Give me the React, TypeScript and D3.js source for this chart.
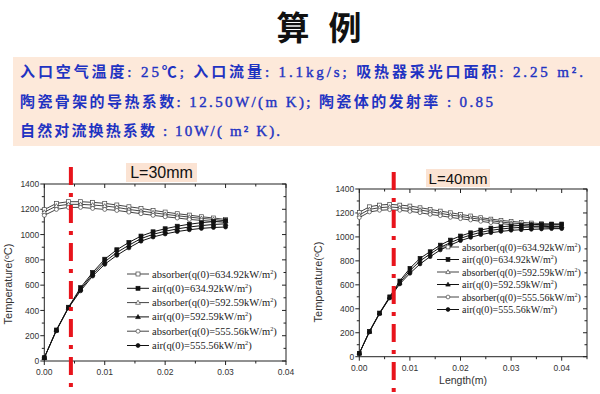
import React from "react";
import * as d3 from "d3";

// tube length (m)
const lenL30 = [0, 0.002, 0.004, 0.006, 0.008, 0.01, 0.012, 0.014, 0.016, 0.018, 0.02, 0.022, 0.024, 0.026, 0.028, 0.03];
const lenL40 = [0, 0.002, 0.004, 0.006, 0.008, 0.01, 0.012, 0.014, 0.016, 0.018, 0.02, 0.022, 0.024, 0.026, 0.028, 0.03, 0.032, 0.034, 0.036, 0.038, 0.04];

// L = 30mm temperatures (°C)
const abs634L30 = [1197, 1247, 1260, 1260, 1255, 1247, 1234, 1220, 1207, 1191, 1178, 1165, 1154, 1141, 1131, 1120];
const abs592L30 = [1177, 1226, 1239, 1239, 1234, 1226, 1215, 1199, 1186, 1173, 1160, 1149, 1138, 1128, 1120, 1109];
const abs555L30 = [1152, 1199, 1215, 1215, 1207, 1199, 1191, 1178, 1165, 1152, 1141, 1131, 1120, 1112, 1104, 1096];
const air634L30 = [26, 245, 425, 580, 700, 805, 880, 938, 988, 1022, 1046, 1066, 1082, 1094, 1103, 1110];
const air592L30 = [26, 243, 422, 567, 686, 785, 858, 916, 968, 1002, 1026, 1045, 1060, 1071, 1080, 1085];
const air555L30 = [26, 240, 420, 555, 672, 765, 836, 895, 948, 981, 1005, 1024, 1038, 1049, 1056, 1060];

// L = 40mm temperatures (°C)
const abs634L40 = [1205, 1252, 1266, 1272, 1266, 1258, 1244, 1230, 1216, 1202, 1188, 1175, 1161, 1149, 1138, 1130, 1122, 1116, 1111, 1105, 1102];
const abs592L40 = [1183, 1230, 1244, 1250, 1244, 1236, 1225, 1211, 1197, 1183, 1172, 1158, 1147, 1136, 1124, 1116, 1110, 1102, 1097, 1091, 1088];
const abs555L40 = [1161, 1208, 1222, 1227, 1222, 1213, 1202, 1188, 1177, 1163, 1152, 1141, 1130, 1119, 1111, 1102, 1094, 1088, 1083, 1077, 1074];
const air634L40 = [28, 212, 365, 500, 632, 738, 821, 877, 932, 974, 1008, 1035, 1058, 1074, 1085, 1091, 1096, 1102, 1105, 1108, 1108];
const air592L40 = [28, 209, 362, 495, 618, 718, 799, 857, 913, 952, 988, 1016, 1038, 1055, 1066, 1074, 1080, 1082, 1085, 1088, 1088];
const air555L40 = [28, 206, 359, 490, 607, 696, 774, 835, 891, 932, 969, 996, 1019, 1035, 1046, 1055, 1060, 1063, 1066, 1069, 1069];

const legendNames = ["absorber(q(0)=634.92kW/m", "air(q(0)=634.92kW/m", "absorber(q(0)=592.59kW/m", "air(q(0)=592.59kW/m", "absorber(q(0)=555.56kW/m", "air(q(0)=555.56kW/m"];
const xTicks = [0, 0.01, 0.02, 0.03, 0.04];
const yTicks = [0, 200, 400, 600, 800, 1000, 1200, 1400];
const redLineAt = [0.0044, 0.0068];

const textLines = [
  "入口空气温度: 25℃;  入口流量: 1.1kg/s; 吸热器采光口面积: 2.25 m².",
  "陶瓷骨架的导热系数: 12.50W/(m K); 陶瓷体的发射率 : 0.85",
  "自然对流换热系数 : 10W/( m² K).",
];

const SERIF = "'Liberation Serif', 'Times New Roman', 'DejaVu Serif', serif";
const SANS = "'Liberation Sans', Arial, sans-serif";
const CJK = "'Noto Sans CJK SC', sans-serif";

type Shape = "square" | "triangle" | "circle";
const shapes: Shape[] = ["square", "square", "triangle", "triangle", "circle", "circle"];

function Marker({ x, y, shape, filled, s }: { x: number; y: number; shape: Shape; filled: boolean; s: number }) {
  const fill = filled ? "#111" : "#fff";
  const stroke = filled ? "#111" : "#444";
  if (shape === "square")
    return <rect x={x - s / 2} y={y - s / 2} width={s} height={s} fill={fill} stroke={stroke} strokeWidth={0.7} />;
  if (shape === "circle") return <circle cx={x} cy={y} r={s / 2} fill={fill} stroke={stroke} strokeWidth={0.7} />;
  const h = s * 0.6;
  return <path d={`M${x},${y - h} L${x + h},${y + h * 0.7} L${x - h},${y + h * 0.7} Z`} fill={fill} stroke={stroke} strokeWidth={0.7} />;
}

type ChartProps = {
  xs: number[];
  series: number[][];
  x0: number; x1: number; yTop: number; yBot: number; xMax: number;
  redX: number; redTop: number;
  legendX: number; legendY: number; legendStep: number; legendFont: number;
  yLabelX: number; yLabelY: number;
  xLabel?: { x: number; y: number };
  tickFont: number;
  ms: number;
};

function Chart(p: ChartProps) {
  const x = d3.scaleLinear().domain([0, p.xMax]).range([p.x0, p.x1]);
  const y = d3.scaleLinear().domain([0, 1400]).range([p.yBot, p.yTop]);
  const line = d3.line<number>().x((_, i) => x(p.xs[i])).y((d) => y(d));
  const minorX = d3.range(0, p.xMax + 1e-9, 0.005);
  const minorY = d3.range(0, 1401, 100);
  const order = [0, 2, 4, 1, 3, 5];
  return (
    <g>
      {/* frame */}
      <rect x={p.x0} y={p.yTop} width={p.x1 - p.x0} height={p.yBot - p.yTop} fill="#fff" stroke="#222" strokeWidth={1} />
      {/* ticks */}
      {minorX.map((t) => {
        const major = xTicks.some((m) => Math.abs(m - t) < 1e-9);
        const l = major ? 4 : 2.5;
        return (
          <g key={"x" + t}>
            <line x1={x(t)} x2={x(t)} y1={p.yBot} y2={p.yBot + l} stroke="#222" />
            <line x1={x(t)} x2={x(t)} y1={p.yTop} y2={p.yTop + l} stroke="#222" />
          </g>
        );
      })}
      {minorY.map((t) => {
        const l = t % 200 === 0 ? 4 : 2.5;
        return (
          <g key={"y" + t}>
            <line x1={p.x0 - l} x2={p.x0} y1={y(t)} y2={y(t)} stroke="#222" />
            <line x1={p.x1 - l} x2={p.x1} y1={y(t)} y2={y(t)} stroke="#222" />
          </g>
        );
      })}
      {xTicks.map((t) => (
        <text key={"xl" + t} x={x(t)} y={p.yBot + 14} textAnchor="middle" fontFamily={SANS} fontSize={p.tickFont} fill="#333">
          {t.toFixed(2)}
        </text>
      ))}
      {yTicks.map((t) => (
        <text key={"yl" + t} x={p.x0 - 5} y={y(t) + 3.2} textAnchor="end" fontFamily={SANS} fontSize={p.tickFont} fill="#333">
          {t}
        </text>
      ))}
      <text transform={`translate(${p.yLabelX},${p.yLabelY}) rotate(-90)`} textAnchor="middle" fontFamily={SANS} fontSize={11} fill="#333">
        Temperature(<tspan dy={-3} fontSize={7}>o</tspan><tspan dy={3}>C)</tspan>
      </text>
      {p.xLabel && (
        <text x={p.xLabel.x} y={p.xLabel.y} textAnchor="middle" fontFamily={SANS} fontSize={10.5} fill="#333">
          Length(m)
        </text>
      )}
      {/* series */}
      {order.map((k) => (
        <g key={"s" + k}>
          <path d={line(p.series[k]) || ""} fill="none" stroke={k % 2 === 0 ? "#444" : "#111"} strokeWidth={1} />
          {p.series[k].map((v, i) => (
            <Marker key={i} x={x(p.xs[i])} y={y(v)} shape={shapes[k]} filled={k % 2 === 1} s={p.ms} />
          ))}
        </g>
      ))}
      {/* legend */}
      {legendNames.map((name, k) => {
        const ly = p.legendY + k * p.legendStep;
        return (
          <g key={"lg" + k}>
            <line x1={p.legendX} x2={p.legendX + 22} y1={ly} y2={ly} stroke={k % 2 === 0 ? "#444" : "#111"} />
            <Marker x={p.legendX + 11} y={ly} shape={shapes[k]} filled={k % 2 === 1} s={p.ms} />
            <text x={p.legendX + 25} y={ly + 3.5} fontFamily={SERIF} fontSize={p.legendFont} fill="#222">
              {name}
              <tspan dy={-4} fontSize={p.legendFont * 0.6}>2</tspan>
              <tspan dy={4}>)</tspan>
            </text>
          </g>
        );
      })}
      {/* red marker line */}
      <line x1={x(p.redX)} x2={x(p.redX)} y1={p.redTop} y2={394} stroke="#e8141c" strokeWidth={4} strokeDasharray="18,8,4,8" />
    </g>
  );
}

function splitRuns(s: string) {
  const out: { t: string; ascii: boolean }[] = [];
  for (const ch of s) {
    const a = /[\x20-\x7E²]/.test(ch);
    const last = out[out.length - 1];
    if (last && last.ascii === a) last.t += ch;
    else out.push({ t: ch, ascii: a });
  }
  return out;
}

export default function App() {
  const lineEnds = [583, 493, 280];
  const lineYs = [77, 107, 136];
  return (
    <svg width={600} height={394} style={{ position: "absolute", left: 0, top: 0, background: "#fff" }}>
      <text x={293} y={40} textAnchor="middle" fontFamily={CJK} fontWeight={700} fontSize={33} fill="#111">算</text>
      <text x={345} y={40} textAnchor="middle" fontFamily={CJK} fontWeight={700} fontSize={33} fill="#111">例</text>
      <rect x={13} y={57} width={587} height={89} fill="#fde9da" />
      {textLines.map((ln, i) => (
        <text key={i} x={20} y={lineYs[i]} textLength={lineEnds[i] - 20} lengthAdjust="spacing" fontSize={15} fill="#1f33c2">
          {splitRuns(ln).map((r, j) => (
            <tspan key={j} fontFamily={r.ascii ? SERIF : CJK} fontWeight={r.ascii ? 400 : 700} stroke={r.ascii ? "#1f33c2" : "none"} strokeWidth={0.4}>
              {r.t}
            </tspan>
          ))}
        </text>
      ))}

      <rect x={126} y={163} width={71} height={19} fill="#fbe3d3" />
      <text x={161.5} y={178} textAnchor="middle" fontFamily={SANS} fontSize={16} fill="#111">L=30mm</text>
      <rect x={426} y={169} width={64} height={18} fill="#fbe3d3" />
      <text x={458} y={184} textAnchor="middle" fontFamily={SANS} fontSize={15} fill="#111">L=40mm</text>

      <Chart
        xs={lenL30}
        series={[abs634L30, air634L30, abs592L30, air592L30, abs555L30, air555L30]}
        x0={44.3} x1={286} yTop={184} yBot={361} xMax={0.04}
        redX={redLineAt[0]} redTop={167}
        legendX={127} legendY={274} legendStep={14.3} legendFont={10.5}
        yLabelX={12} yLabelY={284}
        tickFont={8.5}
        ms={4}
      />
      <Chart
        xs={lenL40}
        series={[abs634L40, air634L40, abs592L40, air592L40, abs555L40, air555L40]}
        x0={359.3} x1={587} yTop={189} yBot={356.7} xMax={0.045}
        redX={redLineAt[1]} redTop={172}
        legendX={437} legendY={247} legendStep={12.5} legendFont={10}
        yLabelX={322} yLabelY={282}
        xLabel={{ x: 463, y: 384 }}
        tickFont={8.5}
        ms={3.8}
      />
    </svg>
  );
}
